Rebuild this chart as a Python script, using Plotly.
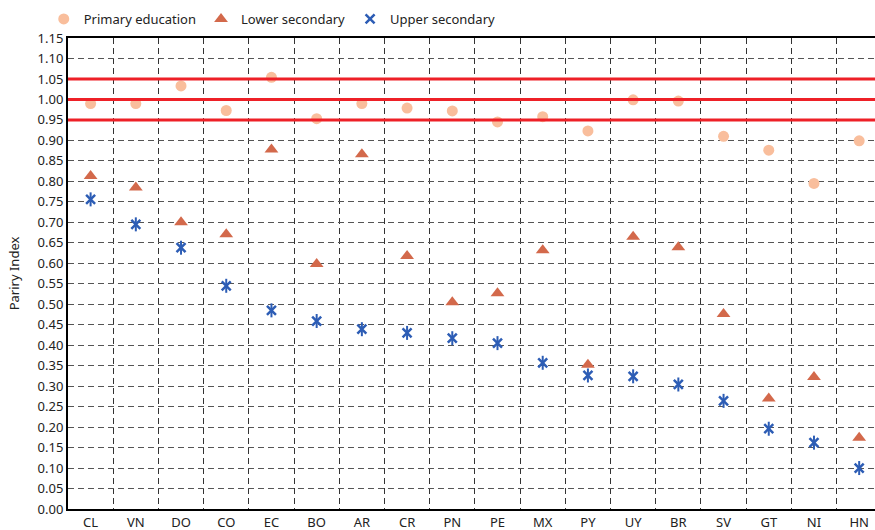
import plotly.graph_objects as go

countries = ["CL", "VN", "DO", "CO", "EC", "BO", "AR", "CR", "PN", "PE",
             "MX", "PY", "UY", "BR", "SV", "GT", "NI", "HN"]
primary = [0.990, 0.990, 1.033, 0.973, 1.054, 0.953, 0.990, 0.979, 0.972, 0.945,
           0.958, 0.923, 0.999, 0.996, 0.910, 0.876, 0.795, 0.899]
lower_sec = [0.813, 0.785, 0.700, 0.671, 0.878, 0.598, 0.866, 0.618, 0.505, 0.527,
             0.632, 0.352, 0.665, 0.639, 0.476, 0.270, 0.322, 0.174]
upper_sec = [0.756, 0.695, 0.638, 0.545, 0.485, 0.459, 0.439, 0.430, 0.417, 0.405,
             0.357, 0.326, 0.324, 0.304, 0.264, 0.196, 0.162, 0.100]
parity_lines = [0.95, 1.00, 1.05]

FONT = "Noto Sans"
BLUE = "#2D5DB5"
fig = go.Figure()
fig.add_trace(go.Scatter(x=countries, y=primary, mode="markers", name="Primary education",
                         marker=dict(symbol="circle", size=11, color="#F9BE9C")))
fig.add_trace(go.Scatter(x=countries, y=lower_sec, mode="markers", name="Lower secondary",
                         marker=dict(symbol="triangle-up", size=12, color="#D3694B")))
fig.add_trace(go.Scatter(x=countries, y=upper_sec, mode="markers", name="Upper secondary",
                         marker=dict(symbol="x-thin-open", size=9, color=BLUE,
                                     line=dict(color=BLUE, width=2.5))))
fig.add_trace(go.Scatter(x=countries, y=upper_sec, mode="markers", showlegend=False,
                         hoverinfo="skip",
                         marker=dict(symbol="line-ns-open", size=10, color=BLUE,
                                     line=dict(color=BLUE, width=2))))

for v in parity_lines:
    fig.add_hline(y=v, line=dict(color="#EE2027", width=3), layer="above")

fig.update_layout(
    width=875, height=530,
    margin=dict(l=68, r=0, t=38, b=21),
    paper_bgcolor="white", plot_bgcolor="white",
    font=dict(family=FONT, size=13, color="#222222"),
    showlegend=True,
    legend=dict(orientation="h", xref="container", yref="container",
                x=0.05, xanchor="left", y=1 - 19 / 530, yanchor="middle",
                font=dict(size=13), itemwidth=30, tracegroupgap=0,
                bgcolor="rgba(0,0,0,0)"),
    xaxis=dict(type="category", range=[-0.5, 17.35], tickson="boundaries",
               showgrid=True, gridcolor="#333333", gridwidth=1, griddash="6px,4px",
               showline=True, linecolor="black", linewidth=2, mirror=True,
               ticks="", tickfont=dict(size=13), zeroline=False, automargin=False),
    yaxis=dict(range=[0, 1.15], dtick=0.05, tickformat=".2f",
               showgrid=True, gridcolor="#555555", gridwidth=1, griddash="6px,4px",
               showline=True, linecolor="black", linewidth=2,
               ticks="", tickfont=dict(size=13), zeroline=False, automargin=False,
               title=dict(text="Pariry Index", font=dict(size=13), standoff=15)),
)
fig.write_html("out.html", config={"displayModeBar": False},
               post_script="document.body.style.margin='0';document.body.style.overflow='hidden';")
